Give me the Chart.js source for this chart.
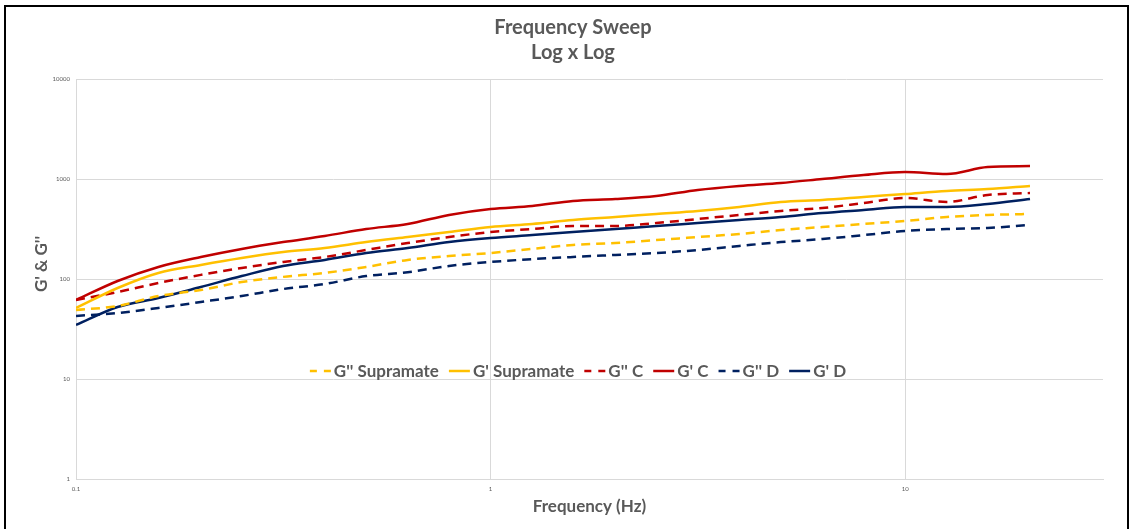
<!DOCTYPE html>
<html><head><meta charset="utf-8">
<script src="https://cdn.jsdelivr.net/npm/chart.js@4/dist/chart.umd.min.js"></script>
<style>
html,body{margin:0;padding:0;background:#fff;}
#wrap{position:relative;width:1134px;height:529px;overflow:hidden;background:#fff;}
#frame{position:absolute;left:4px;top:5px;width:1121px;height:600px;border:2px solid #000;pointer-events:none;}
canvas{position:absolute;left:0;top:0;}
</style></head><body>
<div id="wrap"><canvas id="c" width="1134" height="529"></canvas><div id="frame"></div></div>
<script>
const titleLines = ['Frequency Sweep', 'Log x Log'];
const xAxisTitle = 'Frequency (Hz)';
const yAxisTitle = "G' & G''";
const xTicks = [0.1, 1, 10];
const yTicks = [1, 10, 100, 1000, 10000];

const frequencies = [0.1, 0.126, 0.158, 0.2, 0.251, 0.316, 0.398, 0.501, 0.631, 0.794, 1, 1.26, 1.58, 2, 2.51, 3.16, 3.98, 5.01, 6.31, 7.94, 10, 12.6, 15.8, 20];
const gppSupramate = [49.0, 53.7, 67.6, 77.6, 93.3, 105, 115, 132, 155, 170, 182, 200, 219, 229, 245, 263, 282, 309, 331, 355, 380, 417, 437, 447];
const gpSupramate  = [51.3, 81.3, 115, 138, 162, 186, 204, 234, 263, 295, 331, 355, 389, 417, 447, 479, 525, 589, 617, 661, 708, 759, 794, 851];
const gppC = [61.7, 74.1, 91.2, 110, 129, 148, 166, 195, 229, 263, 295, 316, 339, 339, 363, 398, 437, 479, 513, 575, 646, 589, 692, 724];
const gpC  = [61.7, 95.5, 132, 166, 200, 234, 269, 316, 355, 437, 501, 537, 603, 631, 676, 776, 851, 912, 1000, 1096, 1175, 1122, 1318, 1349];
const gppD = [42.7, 45.7, 51.3, 58.9, 67.6, 79.4, 89.1, 107, 117, 135, 148, 158, 166, 174, 182, 195, 214, 234, 251, 275, 302, 316, 324, 347];
const gpD  = [34.7, 52.5, 64.6, 83.2, 107, 135, 155, 182, 204, 234, 257, 275, 295, 316, 339, 363, 389, 417, 457, 490, 525, 525, 562, 631];

const seriesNames = ["G'' Supramate", "G' Supramate", "G'' C", "G' C", "G'' D", "G' D"];
const seriesValues = [gppSupramate, gpSupramate, gppC, gpC, gppD, gpD];
const seriesColors = ['#FFC000', '#FFC000', '#C00000', '#C00000', '#002060', '#002060'];
const seriesDashed = [true, false, true, false, true, false];

const TEXT = '#595959';
const FONT = 'Lato';

const datasets = seriesNames.map((name, i) => ({
  label: name,
  data: frequencies.map((f, j) => ({x: f, y: seriesValues[i][j]})),
  borderColor: seriesColors[i],
  backgroundColor: seriesColors[i],
  borderDash: seriesDashed[i] ? [9, 6] : [],
  borderWidth: 2.5,
  pointRadius: 0,
  cubicInterpolationMode: 'monotone',
  fill: false
}));

const overlay = {
  id: 'overlay',
  afterDraw(chart) {
    const ctx = chart.ctx, ca = chart.chartArea;
    ctx.save();
    ctx.fillStyle = TEXT;
    ctx.textAlign = 'center';
    ctx.textBaseline = 'middle';
    // chart title
    ctx.font = 'bold 20px ' + FONT;
    titleLines.forEach((t, i) => ctx.fillText(t, 573, 28 + i * 25));
    // axis titles
    ctx.font = 'bold 17px ' + FONT;
    ctx.fillText(xAxisTitle, (ca.left + ca.right) / 2, 507);
    ctx.save();
    ctx.translate(42, 264);
    ctx.rotate(-Math.PI / 2);
    ctx.fillText(yAxisTitle, 0, 0);
    ctx.restore();

    // legend inside plot area
    ctx.font = 'bold 17px ' + FONT;
    const sample = 21, gapText = 3, gapItem = 10;
    const widths = chart.data.datasets.map(d => sample + gapText + ctx.measureText(d.label).width);
    const total = widths.reduce((a, b) => a + b, 0) + gapItem * (widths.length - 1);
    let x = 578 - total / 2;
    const y = 371;
    ctx.textAlign = 'left';
    chart.data.datasets.forEach((d, i) => {
      ctx.beginPath();
      ctx.strokeStyle = d.borderColor;
      ctx.lineWidth = 2.5;
      ctx.setLineDash(d.borderDash.length ? [7, 7] : []);
      ctx.moveTo(x, y);
      ctx.lineTo(x + sample, y);
      ctx.stroke();
      ctx.setLineDash([]);
      ctx.fillStyle = TEXT;
      ctx.fillText(d.label, x + sample + gapText, y + 1);
      x += widths[i] + gapItem;
    });
    ctx.restore();
  }
};

new Chart(document.getElementById('c'), {
  type: 'line',
  data: {datasets},
  plugins: [overlay],
  options: {
    responsive: false,
    animation: false,
    devicePixelRatio: 1,
    layout: {padding: {left: 0, right: 31, top: 79, bottom: 0}},
    plugins: {
      legend: {display: false},
      tooltip: {enabled: false},
      title: {display: false}
    },
    scales: {
      x: {
        type: 'logarithmic',
        min: 0.1,
        max: 30,
        afterBuildTicks: s => { s.ticks = xTicks.map(v => ({value: v})); },
        afterFit: s => { s.height = 50; },
        ticks: {callback: v => String(v), color: TEXT, font: {family: FONT, size: 6}, padding: 6, maxRotation: 0, autoSkip: false},
        grid: {color: '#D9D9D9', drawTicks: false, lineWidth: 1},
        border: {color: '#D9D9D9'}
      },
      y: {
        type: 'logarithmic',
        min: 1,
        max: 10000,
        afterBuildTicks: s => { s.ticks = yTicks.map(v => ({value: v})); },
        afterFit: s => { s.width = 76; },
        ticks: {callback: v => String(v), color: TEXT, font: {family: FONT, size: 6}, padding: 6, autoSkip: false},
        grid: {color: '#D9D9D9', drawTicks: false, lineWidth: 1},
        border: {color: '#D9D9D9'}
      }
    }
  }
});
</script>
</body></html>
